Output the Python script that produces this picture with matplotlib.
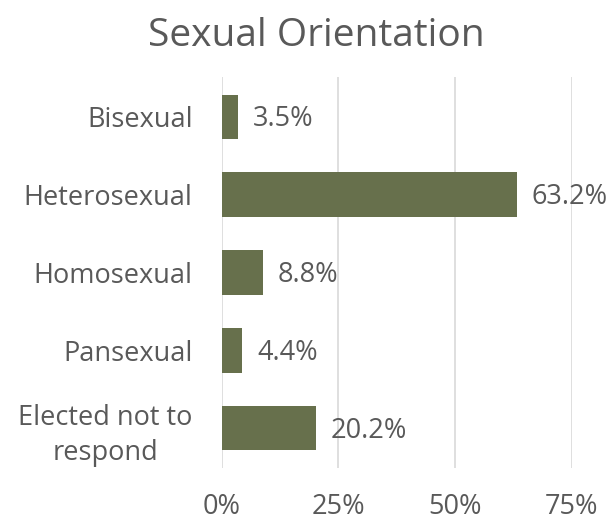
import matplotlib
matplotlib.use("Agg")
import matplotlib.pyplot as plt
from matplotlib.ticker import PercentFormatter

plt.rcParams['font.family'] = ['Open Sans', 'DejaVu Sans']

categories = ['Bisexual', 'Heterosexual', 'Homosexual', 'Pansexual', 'Elected not to\nrespond']
values = [3.5, 63.2, 8.8, 4.4, 20.2]
ticks = [0, 25, 50, 75]

bar_color = '#67704c'
text_color = '#595959'

fig = plt.figure(figsize=(6.12, 5.2), dpi=100)
ax = fig.add_axes([221.7 / 612, 1 - 468 / 520, (572 - 221.7) / 612, (468 - 77) / 520])

y = range(len(categories))
ax.barh(y, values, height=0.57, color=bar_color, zorder=3)
for yi, v in zip(y, values):
    ax.text(v + 3.2, yi + 0.03, f'{v:.1f}%', va='center', ha='left', fontsize=19.5,
            color=text_color, clip_on=False)

ax.set_xlim(0, 75)
ax.set_ylim(4.51, -0.51)
ax.set_xticks(ticks)
ax.xaxis.set_major_formatter(PercentFormatter(decimals=0))
ax.set_yticks(list(y))
ax.set_yticklabels(categories, linespacing=1.35, multialignment='center')
ax.tick_params(axis='both', length=0, labelsize=19.5, labelcolor=text_color)
ax.tick_params(axis='x', pad=18)
ax.tick_params(axis='y', pad=21)
ax.grid(axis='x', color='#d9d9d9', linewidth=1.2, zorder=0)
for s in ax.spines.values():
    s.set_visible(False)

fig.text(316 / 612, 1 - 36 / 520, 'Sexual Orientation', ha='center', va='center',
         fontsize=28, color=text_color)

fig.savefig('out.png', dpi=100)
